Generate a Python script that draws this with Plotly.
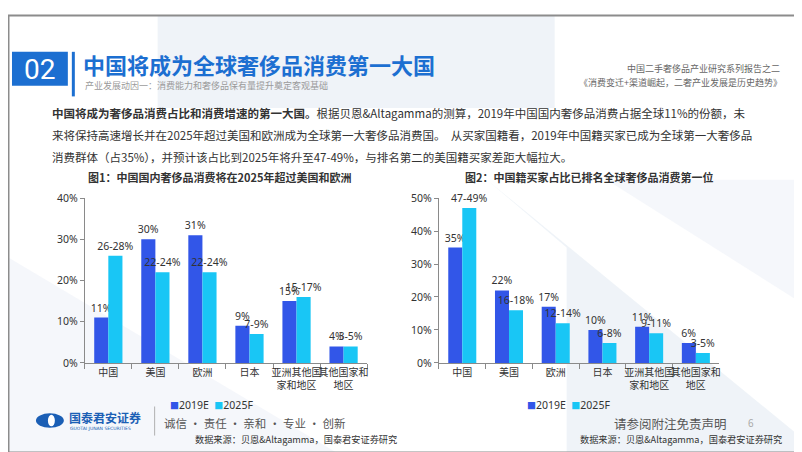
import plotly.graph_objects as go

W, H = 802, 452
def px(x): return x / W
def py(y): return 1 - y / H

# ---------------- data ----------------
categories = ["中国", "美国", "欧洲", "日本", "亚洲其他国<br>家和地区", "其他国家和<br>地区"]
series_names = ["2019E", "2025F"]

c1_2019 = [11, 30, 31, 9, 15, 4]
c1_2025 = [26, 22, 22, 7, 16, 4]
c1_2019_labels = ["11%", "30%", "31%", "9%", "15%", "4%"]
c1_2025_labels = ["26-28%", "22-24%", "22-24%", "7-9%", "15-17%", "3-5%"]

c2_2019 = [35, 22, 17, 10, 11, 6]
c2_2025 = [47, 16, 12, 6, 9, 3]
c2_2019_labels = ["35%", "22%", "17%", "10%", "11%", "6%"]
c2_2025_labels = ["47-49%", "16-18%", "12-14%", "6-8%", "9-11%", "3-5%"]

c1_ticks = [0, 10, 20, 30, 40]
c1_ticktext = ["0%", "10%", "20%", "30%", "40%"]
c2_ticks = [0, 10, 20, 30, 40, 50]
c2_ticktext = ["0%", "10%", "20%", "30%", "40%", "50%"]

COL_2019 = "#3256E8"
COL_2025 = "#19C6F5"
BLUE = "#1C6FD1"
TXT = "#333333"
NUMFONT = "Noto Sans, Noto Sans CJK SC"
CJK = "Noto Sans CJK SC"

fig = go.Figure()

def add_bars(vals, labels, name, color, xa, ya):
    fig.add_trace(go.Bar(
        x=categories, y=vals, name=name, marker=dict(color=color, line=dict(width=0)),
        text=labels, textposition="outside", constraintext="none", cliponaxis=False,
        textfont=dict(family=NUMFONT, size=10.5, color=TXT),
        xaxis=xa, yaxis=ya, showlegend=False, hoverinfo="skip"))

add_bars(c1_2019, c1_2019_labels, series_names[0], COL_2019, "x", "y")
add_bars(c1_2025, c1_2025_labels, series_names[1], COL_2025, "x", "y")
add_bars(c2_2019, c2_2019_labels, series_names[0], COL_2019, "x2", "y2")
add_bars(c2_2025, c2_2025_labels, series_names[1], COL_2025, "x2", "y2")

ydom = [py(359), py(189)]
xaxis_common = dict(type="category", showline=True, linecolor="#8a8a8a", linewidth=1,
                    ticks="outside", tickson="boundaries", ticklen=5, tickcolor="#8a8a8a",
                    tickangle=0,
                    tickfont=dict(family=CJK, size=10, color=TXT), showgrid=False, fixedrange=True)
yaxis_common = dict(showline=True, linecolor="#8a8a8a", linewidth=1, ticks="outside", ticklen=4,
                    tickcolor="#8a8a8a", showgrid=False, zeroline=False,
                    tickfont=dict(family=NUMFONT, size=10.5, color=TXT), fixedrange=True)

fig.update_layout(
    width=W, height=H, margin=dict(l=0, r=0, t=0, b=0),
    paper_bgcolor="white", plot_bgcolor="rgba(0,0,0,0)",
    barmode="group", bargap=0.4, bargroupgap=0,
    showlegend=False,
    xaxis=dict(domain=[px(77), px(360)], anchor="y", **xaxis_common),
    yaxis=dict(domain=ydom, anchor="x", range=[0, 40], tickvals=c1_ticks, ticktext=c1_ticktext, **yaxis_common),
    xaxis2=dict(domain=[px(432), px(713)], anchor="y2", **xaxis_common),
    yaxis2=dict(domain=ydom, anchor="x2", range=[0, 50], tickvals=c2_ticks, ticktext=c2_ticktext, **yaxis_common),
)

def pix_path(pts):
    s = ""
    for i, (x, y) in enumerate(pts):
        s += ("M " if i == 0 else " L ") + f"{px(x):.5f},{py(y):.5f}"
    return s + " Z"

shapes = []
BG = "rgba(226,233,243,0.55)"
BG2 = "rgba(226,233,243,0.35)"
for pts, col in [
    ([(150, 0), (548, 0), (548, 96), (150, 96)], BG),
    ([(0, 250), (0, 452), (330, 452)], BG2),
    ([(480, 170), (560, 240), (560, 452), (800, 452), (800, 440)], BG),
    ([(600, 170), (800, 170), (800, 300)], BG2),
]:
    shapes.append(dict(type="path", path=pix_path(pts), fillcolor=col, line=dict(width=0),
                       xref="paper", yref="paper", layer="below"))

# slide border
shapes.append(dict(type="rect", xref="paper", yref="paper", x0=px(0.5), x1=px(801.5), y0=py(451.5), y1=py(0.5),
                   line=dict(color="#8c8c8c", width=2), fillcolor="rgba(0,0,0,0)"))
# "02" box
shapes.append(dict(type="rect", xref="paper", yref="paper", x0=px(4), x1=px(60), y0=py(73), y1=py(38),
                   fillcolor=BLUE, line=dict(width=0)))
shapes.append(dict(type="rect", xref="paper", yref="paper", x0=px(64), x1=px(67), y0=py(84), y1=py(38),
                   fillcolor=BLUE, line=dict(width=0)))
# logo
shapes.append(dict(type="circle", xref="paper", yref="paper", x0=px(28), x1=px(56), y0=py(426), y1=py(411),
                   fillcolor="#1B5FB5", line=dict(width=0)))
shapes.append(dict(type="circle", xref="paper", yref="paper", x0=px(40), x1=px(47), y0=py(424.5), y1=py(412.5),
                   fillcolor="white", line=dict(width=0)))
shapes.append(dict(type="line", xref="paper", yref="paper", x0=px(147), x1=px(147), y0=py(434), y1=py(404),
                   line=dict(color="#b0b0b0", width=1)))
fig.update_layout(shapes=shapes)

ann = []
def T(x, y, text, size, color=TXT, xanchor="left", family=CJK, bold=False):
    if bold:
        text = f"<b>{text}</b>"
    ann.append(dict(x=px(x), y=py(y), xref="paper", yref="paper", text=text, showarrow=False,
                    xanchor=xanchor, yanchor="middle", font=dict(family=family, size=size, color=color)))

T(32, 56, "02", 28, color="white", xanchor="center", family="Roboto, Noto Sans")
T(73, 51, "中国将成为全球奢侈品消费第一大国", 22, color=BLUE, bold=True)
T(75, 73, "产业发展动因一：消费能力和奢侈品保有量提升奠定客观基础", 9, color="#9a9a9a")
T(776, 55, "中国二手奢侈品产业研究系列报告之二", 9, color="#666666", xanchor="right")
T(778, 70, "《消费变迁+渠道崛起，二奢产业发展是历史趋势》", 9, color="#666666", xanchor="right")

T(42, 101, "<b>中国将成为奢侈品消费占比和消费增速的第一大国。</b>根据贝恩&Altagamma的测算，2019年中国国内奢侈品消费占据全球11%的份额，未", 11.5)
T(42, 124, "来将保持高速增长并在2025年超过美国和欧洲成为全球第一大奢侈品消费国。  从买家国籍看，2019年中国籍买家已成为全球第一大奢侈品", 11.5)
T(42, 147, "消费群体（占35%），并预计该占比到2025年将升至47-49%，与排名第二的美国籍买家差距大幅拉大。", 11.5)

T(212, 167, "图1：中国国内奢侈品消费将在2025年超过美国和欧洲", 11, xanchor="center", bold=True)
T(583, 167, "图2：中国籍买家占比已排名全球奢侈品消费第一位", 11, xanchor="center", bold=True)

# legends (one per chart)
def legend_text():
    sq = "<span style='font-size:9px;color:{c}'>■</span>"
    return (sq.format(c=COL_2019) + series_names[0] + "  " + sq.format(c=COL_2025) + series_names[1])
T(204.5, 402, legend_text(), 10.5, xanchor="center", family=NUMFONT)
T(562, 402, legend_text(), 10.5, xanchor="center", family=NUMFONT)

T(59, 415, "国泰君安证券", 12, color="#1B5FB5", bold=True)
T(60, 427, "GUOTAI JUNAN SECURITIES", 4.5, color="#1B5FB5", family="DejaVu Sans")
T(154, 421, "诚信 · 责任 · 亲和 · 专业 · 创新", 11.5, color="#555555")
T(392, 438, "数据来源：贝恩&Altagamma，国泰君安证券研究", 9.2, color=TXT, xanchor="right")
T(723, 422, "请参阅附注免责声明", 12.5, color="#555555", xanchor="right")
T(745, 421, "6", 10, color="#aaaaaa", xanchor="center")
T(778, 438, "数据来源：贝恩&Altagamma，国泰君安证券研究", 9.2, color=TXT, xanchor="right")
fig.update_layout(annotations=ann)

fig.write_html("out.html")
